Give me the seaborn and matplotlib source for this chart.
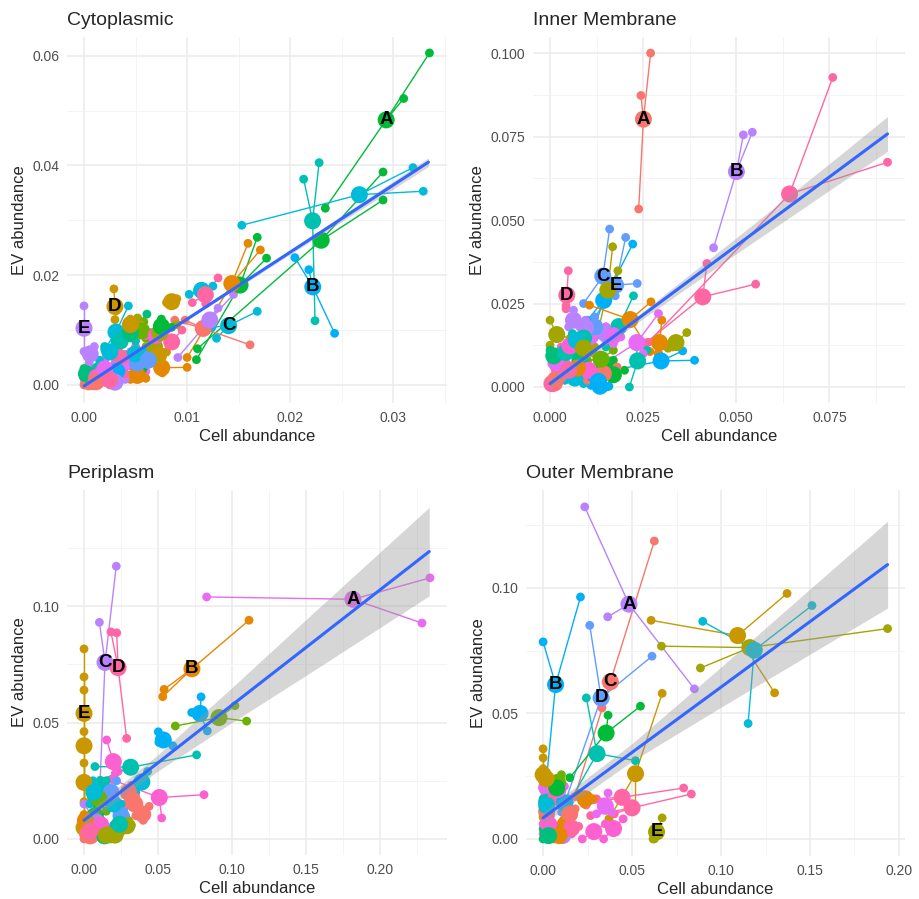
import numpy as np
import pandas as pd
import seaborn as sns
import matplotlib.pyplot as plt
from matplotlib.ticker import FixedLocator, FormatStrFormatter

# ggplot hue palette, 15 colours
hue15 = ["#F8766D", "#E58700", "#C99800", "#A3A500", "#6BB100", "#00BA38", "#00BF7D", "#00C0AF",
         "#00BCD8", "#00B0F6", "#619CFF", "#B983FF", "#E76BF3", "#FD61D1", "#FF67A4"]

#cytoplasmic
cyto_groups = ["A", "B", "C", "D", "E", "g06", "g07", "g08", "g09", "g10", "g11", "g12", "g13", "g14",
               "g15", "g16", "g17", "g18", "g19", "g20", "g21", "g22", "g23", "g24", "g25", "g26",
               "g27", "g28", "g29", "g30", "g31", "g32", "g33", "g34", "g35", "g36", "g37", "g38",
               "g39", "g40", "g41", "g42", "g43", "g44", "g45", "g46", "g47", "g48", "g49", "g50"]
cyto_colour = [5, 9, 8, 2, 11, 7, 8, 5, 5, 1, 1, 0, 8, 14, 2, 11, 6, 8, 3, 4, 0, 0, 12, 14, 11, 3,
               5, 1, 7, 9, 10, 12, 13, 14, 2, 8, 0, 6, 13, 12, 0, 7, 3, 8, 11, 14, 6, 2, 5, 10]
cyto_cell = [[0.0335, 0.0310, 0.0234], [0.02045, 0.0218, 0.0243], [0.0168, 0.01285, 0.0124],
             [0.0029, 0.0031, 0.0030], [0.0, 0.0, 0.0], [0.0213, 0.0228, 0.0224],
             [0.0153, 0.0319, 0.0329], [0.0290, 0.0290, 0.0110], [0.0168, 0.0177, 0.0109],
             [0.0159, 0.0171, 0.0100], [0.0100, 0.0076, 0.0050], [0.0161, 0.0098, 0.0088],
             [0.0102, 0.0115, 0.0125], [0.0105, 0.0118, 0.0130], [0.0080, 0.0090, 0.0085],
             [0.0091, 0.0130, 0.0145], [0.0061, 0.0040, 0.0030], [0.0043, 0.0030, 0.0020],
             [0.0052, 0.0045, 0.0038], [0.0058, 0.0050, 0.0060], [0.0002, 0.0008, 0.0012],
             [0.0005, 0.0015, 0.0003], [0.0030, 0.0045, 0.0060], [0.0020, 0.0035, 0.0050],
             [0.0003, 0.0010, 0.0005], [0.0060, 0.0075, 0.0070], [0.0040, 0.0065, 0.0055],
             [0.0045, 0.0060, 0.0050], [0.0010, 0.0020, 0.0015], [0.0025, 0.0040, 0.0030],
             [0.0035, 0.0050, 0.0070], [0.0015, 0.0030, 0.0025], [0.0060, 0.0080, 0.0070],
             [0.0075, 0.0085, 0.0095], [0.0065, 0.0080, 0.0072], [0.0050, 0.0060, 0.0040],
             [0.0000, 0.0004, 0.0010], [0.0000, 0.0005, 0.0002], [0.0005, 0.0020, 0.0012],
             [0.0010, 0.0030, 0.0020], [0.0000, 0.0010, 0.0025], [0.0020, 0.0050, 0.0035],
             [0.0070, 0.0090, 0.0060], [0.0015, 0.0035, 0.0025], [0.0030, 0.0040, 0.0020],
             [0.0010, 0.0025, 0.0040], [0.0045, 0.0055, 0.0035], [0.0035, 0.0045, 0.0055],
             [0.0065, 0.0075, 0.0085], [0.0055, 0.0070, 0.0062]]
cyto_ev = [[0.0605, 0.0522, 0.0322], [0.0232, 0.0210, 0.0094], [0.0134, 0.0085, 0.0105],
           [0.0175, 0.0135, 0.0119], [0.0144, 0.0105, 0.0061], [0.0375, 0.0405, 0.0117],
           [0.0291, 0.0396, 0.0353], [0.0388, 0.0337, 0.0066], [0.0269, 0.0231, 0.0046],
           [0.0258, 0.0246, 0.0050], [0.0032, 0.0022, 0.0040], [0.0073, 0.0118, 0.0118],
           [0.0165, 0.0172, 0.0180], [0.0150, 0.0148, 0.0195], [0.0150, 0.0157, 0.0148],
           [0.0050, 0.0140, 0.0165], [0.0129, 0.0085, 0.0070], [0.0144, 0.0080, 0.0065],
           [0.0122, 0.0090, 0.0075], [0.0115, 0.0095, 0.0085], [0.0005, 0.0010, 0.0003],
           [0.0020, 0.0012, 0.0008], [0.0040, 0.0060, 0.0025], [0.0030, 0.0050, 0.0070],
           [0.0060, 0.0070, 0.0040], [0.0070, 0.0090, 0.0050], [0.0020, 0.0045, 0.0030],
           [0.0010, 0.0012, 0.0030], [0.0025, 0.0040, 0.0015], [0.0015, 0.0035, 0.0025],
           [0.0020, 0.0040, 0.0060], [0.0005, 0.0010, 0.0020], [0.0090, 0.0100, 0.0080],
           [0.0060, 0.0075, 0.0100], [0.0055, 0.0060, 0.0047], [0.0050, 0.0065, 0.0055],
           [0.0000, 0.0002, 0.0015], [0.0030, 0.0020, 0.0010], [0.0010, 0.0030, 0.0002],
           [0.0030, 0.0012, 0.0045], [0.0012, 0.0005, 0.0000], [0.0070, 0.0080, 0.0090],
           [0.0080, 0.0110, 0.0095], [0.0045, 0.0075, 0.0060], [0.0000, 0.0010, 0.0005],
           [0.0000, 0.0008, 0.0020], [0.0095, 0.0110, 0.0080], [0.0100, 0.0120, 0.0110],
           [0.0095, 0.0120, 0.0105], [0.0035, 0.0045, 0.0055]]
cyto_fit_x = [0.0, 0.01, 0.02, 0.0334]
cyto_fit_y = [-0.0002, 0.0120, 0.0242, 0.0406]
cyto_fit_hw = [0.0004, 0.0002, 0.0004, 0.0008]

#inner membrane
inner_groups = ["A", "B", "C", "D", "E", "g06", "g07", "g08", "g09", "g10", "g11", "g12", "g13",
                "g14", "g15", "g16", "g17", "g18", "g19", "g20", "g21", "g22", "g23", "g24", "g25",
                "g26", "g27", "g28", "g29", "g30", "g31", "g32", "g33", "g34", "g35", "g36", "g37",
                "g38", "g39", "g40", "g41", "g42", "g43", "g44", "g45", "g46", "g47"]
inner_colour = [0, 11, 10, 14, 10, 14, 14, 9, 3, 7, 1, 1, 3, 9, 7, 12, 3, 11, 9, 11, 12, 5, 5, 6,
                0, 14, 13, 12, 8, 9, 6, 0, 13, 1, 14, 7, 10, 13, 11, 0, 4, 7, 12, 14, 9, 8, 3]
inner_cell = [[0.0270, 0.0244, 0.0238], [0.0519, 0.0543, 0.0439], [0.0160, 0.0090, 0.0175],
              [0.0049, 0.0043, 0.0043], [0.0234, 0.0203, 0.0091], [0.0759, 0.0906, 0.0264],
              [0.0552, 0.0421, 0.0257], [0.0222, 0.0100, 0.0110], [0.0168, 0.0182, 0.0115],
              [0.0224, 0.0180, 0.0150], [0.0271, 0.0106, 0.0268], [0.0300, 0.0290, 0.0292],
              [0.0367, 0.0330, 0.0317], [0.0388, 0.0356, 0.0150], [0.0213, 0.0260, 0.0232],
              [0.0291, 0.0250, 0.0158], [0.0000, 0.0000, 0.0054], [0.0063, 0.0050, 0.0076],
              [0.0134, 0.0110, 0.0158], [0.0120, 0.0150, 0.0180], [0.0100, 0.0130, 0.0090],
              [0.0120, 0.0170, 0.0140], [0.0160, 0.0200, 0.0150], [0.0080, 0.0060, 0.0100],
              [0.0010, 0.0020, 0.0005], [0.0030, 0.0060, 0.0045], [0.0020, 0.0040, 0.0010],
              [0.0005, 0.0030, 0.0015], [0.0040, 0.0070, 0.0090], [0.0080, 0.0110, 0.0060],
              [0.0000, 0.0020, 0.0010], [0.0100, 0.0150, 0.0180], [0.0080, 0.0100, 0.0130],
              [0.0060, 0.0090, 0.0070], [0.0005, 0.0010, 0.0000], [0.0040, 0.0030, 0.0055],
              [0.0120, 0.0090, 0.0150], [0.0030, 0.0080, 0.0050], [0.0080, 0.0110, 0.0095],
              [0.0000, 0.0030, 0.0015], [0.0100, 0.0140, 0.0170], [0.0060, 0.0090, 0.0120],
              [0.0150, 0.0190, 0.0170], [0.0020, 0.0050, 0.0080], [0.0150, 0.0110, 0.0130],
              [0.0070, 0.0040, 0.0100], [0.0120, 0.0090, 0.0060]]
inner_ev = [[0.1000, 0.0873, 0.0533], [0.0755, 0.0763, 0.0417], [0.0473, 0.0250, 0.0273],
            [0.0348, 0.0243, 0.0234], [0.0310, 0.0448, 0.0157], [0.0927, 0.0673, 0.0134],
            [0.0308, 0.0370, 0.0132], [0.0428, 0.0200, 0.0150], [0.0420, 0.0348, 0.0102],
            [0.0273, 0.0150, 0.0120], [0.0255, 0.0245, 0.0106], [0.0200, 0.0100, 0.0099],
            [0.0163, 0.0120, 0.0116], [0.0080, 0.0108, 0.0046], [0.0000, 0.0110, 0.0124],
            [0.0220, 0.0100, 0.0079], [0.0200, 0.0125, 0.0146], [0.0230, 0.0180, 0.0190],
            [0.0000, 0.0005, 0.0002], [0.0160, 0.0140, 0.0175], [0.0150, 0.0170, 0.0130],
            [0.0050, 0.0080, 0.0030], [0.0060, 0.0050, 0.0000], [0.0100, 0.0060, 0.0080],
            [0.0010, 0.0020, 0.0005], [0.0040, 0.0030, 0.0070], [0.0060, 0.0090, 0.0030],
            [0.0070, 0.0100, 0.0050], [0.0020, 0.0050, 0.0010], [0.0130, 0.0160, 0.0110],
            [0.0110, 0.0080, 0.0090], [0.0020, 0.0040, 0.0060], [0.0030, 0.0070, 0.0050],
            [0.0050, 0.0080, 0.0040], [0.0000, 0.0010, 0.0020], [0.0120, 0.0090, 0.0100],
            [0.0210, 0.0150, 0.0180], [0.0120, 0.0150, 0.0100], [0.0180, 0.0150, 0.0200],
            [0.0000, 0.0025, 0.0040], [0.0080, 0.0060, 0.0110], [0.0160, 0.0130, 0.0150],
            [0.0180, 0.0150, 0.0130], [0.0070, 0.0050, 0.0030], [0.0000, 0.0030, 0.0020],
            [0.0140, 0.0110, 0.0170], [0.0120, 0.0090, 0.0140]]
inner_fit_x = [0.0, 0.01, 0.025, 0.05, 0.075, 0.0906]
inner_fit_y = [0.0010, 0.0093, 0.0216, 0.0423, 0.0629, 0.0758]
inner_fit_hw = [0.0012, 0.0009, 0.0011, 0.0024, 0.0040, 0.0052]

#periplasm
peri_groups = ["A", "B", "C", "D", "E", "g06", "g07", "g08", "g09", "g10", "g11", "g12", "g13",
               "g14", "g15", "g16", "g17", "g18", "g19", "g20", "g21", "g22", "g23", "g24", "g25",
               "g26", "g27", "g28", "g29", "g30", "g31", "g32", "g33", "g34", "g35", "g36", "g37",
               "g38"]
peri_colour = [12, 1, 11, 14, 2, 2, 2, 2, 9, 4, 9, 7, 13, 10, 8, 13, 0, 0, 7, 8, 5, 3, 3, 0, 0, 11,
               12, 1, 6, 9, 13, 10, 7, 4, 14, 3, 0, 8]
peri_cell = [[0.0829, 0.2338, 0.2284], [0.1115, 0.0541, 0.0532], [0.0218, 0.0104, 0.0104],
             [0.0182, 0.0221, 0.0288], [0.0, 0.0, 0.0], [0.0, 0.0, 0.0], [0.0, 0.0, 0.0],
             [0.0, 0.0, 0.0], [0.0791, 0.0833, 0.0728], [0.1099, 0.1020, 0.0617],
             [0.0502, 0.0600, 0.0506], [0.0761, 0.0074, 0.0110], [0.0811, 0.0525, 0.0191],
             [0.0250, 0.0230, 0.0270], [0.0392, 0.0350, 0.0430], [0.0153, 0.0230, 0.0211],
             [0.0280, 0.0350, 0.0400], [0.0400, 0.0440, 0.0350], [0.0080, 0.0150, 0.0120],
             [0.0150, 0.0200, 0.0250], [0.0050, 0.0080, 0.0100], [0.0200, 0.0250, 0.0180],
             [0.0320, 0.0250, 0.0300], [0.0000, 0.0050, 0.0020], [0.0020, 0.0080, 0.0030],
             [0.0000, 0.0100, 0.0150], [0.0050, 0.0120, 0.0080], [0.0000, 0.0020, 0.0010],
             [0.0100, 0.0180, 0.0140], [0.0120, 0.0160, 0.0200], [0.0080, 0.0150, 0.0110],
             [0.0150, 0.0220, 0.0180], [0.0200, 0.0280, 0.0240], [0.0100, 0.0050, 0.0150],
             [0.0000, 0.0040, 0.0080], [0.0120, 0.0180, 0.0150], [0.0280, 0.0320, 0.0300],
             [0.0060, 0.0100, 0.0040]]
peri_ev = [[0.1039, 0.1121, 0.0927], [0.0939, 0.0642, 0.0611], [0.1171, 0.0930, 0.0173],
           [0.0889, 0.0885, 0.0432], [0.0816, 0.0696, 0.0105], [0.0639, 0.0461, 0.0100],
           [0.0326, 0.0243, 0.0160], [0.0086, 0.0040, 0.0020], [0.0610, 0.0464, 0.0543],
           [0.0506, 0.0572, 0.0485], [0.0460, 0.0400, 0.0415], [0.0361, 0.0311, 0.0252],
           [0.0190, 0.0090, 0.0254], [0.0100, 0.0070, 0.0130], [0.0244, 0.0200, 0.0290],
           [0.0425, 0.0290, 0.0281], [0.0150, 0.0180, 0.0120], [0.0080, 0.0140, 0.0100],
           [0.0200, 0.0250, 0.0180], [0.0120, 0.0180, 0.0150], [0.0100, 0.0150, 0.0050],
           [0.0010, 0.0040, 0.0000], [0.0060, 0.0030, 0.0080], [0.0000, 0.0020, 0.0050],
           [0.0000, 0.0030, 0.0010], [0.0150, 0.0050, 0.0020], [0.0050, 0.0080, 0.0020],
           [0.0080, 0.0100, 0.0060], [0.0010, 0.0030, 0.0000], [0.0160, 0.0220, 0.0200],
           [0.0100, 0.0050, 0.0030], [0.0200, 0.0250, 0.0150], [0.0060, 0.0100, 0.0030],
           [0.0220, 0.0180, 0.0120], [0.0030, 0.0010, 0.0060], [0.0000, 0.0010, 0.0040],
           [0.0200, 0.0230, 0.0170], [0.0250, 0.0200, 0.0150]]
peri_fit_x = [0.0, 0.05, 0.10, 0.15, 0.2333]
peri_fit_y = [0.0080, 0.0327, 0.0575, 0.0822, 0.1234]
peri_fit_hw = [0.0025, 0.0035, 0.0075, 0.0120, 0.0190]

#outer membrane
outer_groups = ["A", "B", "C", "D", "E", "g06", "g07", "g08", "g09", "g10", "g11", "g12", "g13",
                "g14", "g15", "g16", "g17", "g18", "g19", "g20", "g21", "g22", "g23", "g24", "g25",
                "g26", "g27", "g28", "g29", "g31", "g32", "g33", "g34", "g35", "g36", "g37", "g38",
                "g39"]
outer_colour = [11, 9, 0, 10, 3, 2, 3, 8, 2, 7, 5, 14, 14, 13, 13, 12, 2, 12, 4, 1, 0, 13, 6, 11,
                7, 1, 14, 9, 5, 0, 13, 12, 5, 8, 14, 2, 1, 6]
outer_cell = [[0.0234, 0.0363, 0.0850], [0.0, 0.0210, 0.0], [0.0625, 0.0331, 0.0178],
              [0.0262, 0.0612, 0.0104], [0.0669, 0.0618, 0.0625], [0.1371, 0.0607, 0.1301],
              [0.1936, 0.0665, 0.0884], [0.1511, 0.0897, 0.1152], [0.0669, 0.0519, 0.0370],
              [0.0243, 0.0519, 0.0147], [0.0547, 0.0365, 0.0150], [0.0790, 0.0300, 0.0242],
              [0.0833, 0.0400, 0.0267], [0.0285, 0.0350, 0.0220], [0.0397, 0.0450, 0.0340],
              [0.0365, 0.0300, 0.0385], [0.0, 0.0, 0.0], [0.0000, 0.0050, 0.0010],
              [0.0103, 0.0060, 0.0080], [0.0280, 0.0200, 0.0230], [0.0000, 0.0020, 0.0040],
              [0.0000, 0.0050, 0.0080], [0.0030, 0.0060, 0.0000], [0.0100, 0.0150, 0.0080],
              [0.0000, 0.0020, 0.0040], [0.0100, 0.0130, 0.0150], [0.0040, 0.0080, 0.0100],
              [0.0100, 0.0120, 0.0140], [0.0020, 0.0050, 0.0060], [0.0150, 0.0180, 0.0120],
              [0.0000, 0.0040, 0.0060], [0.0080, 0.0120, 0.0050], [0.0050, 0.0100, 0.0080],
              [0.0020, 0.0000, 0.0040], [0.0200, 0.0160, 0.0120], [0.0000, 0.0020, 0.0030],
              [0.0060, 0.0090, 0.0120], [0.0000, 0.0030, 0.0060]]
outer_ev = [[0.1323, 0.0885, 0.0598], [0.0785, 0.0964, 0.0096], [0.1187, 0.0522, 0.0169],
            [0.0851, 0.0728, 0.0107], [0.0084, 0.0, 0.0], [0.0978, 0.0871, 0.0582],
            [0.0838, 0.0768, 0.0681], [0.0930, 0.0867, 0.0460], [0.0580, 0.0120, 0.0080],
            [0.0562, 0.0312, 0.0146], [0.0529, 0.0493, 0.0244], [0.0203, 0.0160, 0.0135],
            [0.0179, 0.0100, 0.0093], [0.0028, 0.0060, 0.0000], [0.0044, 0.0080, 0.0000],
            [0.0183, 0.0100, 0.0107], [0.0359, 0.0323, 0.0086], [0.0206, 0.0230, 0.0180],
            [0.0256, 0.0200, 0.0220], [0.0160, 0.0180, 0.0140], [0.0110, 0.0090, 0.0130],
            [0.0020, 0.0040, 0.0000], [0.0000, 0.0020, 0.0040], [0.0000, 0.0030, 0.0010],
            [0.0150, 0.0160, 0.0130], [0.0060, 0.0040, 0.0080], [0.0180, 0.0150, 0.0170],
            [0.0140, 0.0130, 0.0160], [0.0050, 0.0010, 0.0030], [0.0100, 0.0120, 0.0080],
            [0.0060, 0.0090, 0.0020], [0.0180, 0.0210, 0.0200], [0.0200, 0.0180, 0.0230],
            [0.0140, 0.0160, 0.0100], [0.0050, 0.0020, 0.0060], [0.0280, 0.0240, 0.0200],
            [0.0000, 0.0030, 0.0010], [0.0000, 0.0010, 0.0030]]
outer_fit_x = [0.0, 0.05, 0.10, 0.15, 0.1936]
outer_fit_y = [0.0084, 0.0345, 0.0605, 0.0866, 0.1093]
outer_fit_hw = [0.0025, 0.0035, 0.0080, 0.0130, 0.0173]

labels = ["A", "B", "C", "D", "E"]

sns.set_style("white")
plt.rcParams["font.family"] = ["Liberation Sans", "DejaVu Sans"]


def draw_panel(ax, title, groups, colour, cell, ev, fit_x, fit_y, fit_hw,
               xlim, ylim, xmajor, ymajor, xminor, yminor, xfmt, yfmt):
    pal = {g: hue15[c] for g, c in zip(groups, colour)}
    rows = []
    for g, xs, ys in zip(groups, cell, ev):
        for x, y in zip(xs, ys):
            rows.append({"group": g, "cell": x, "ev": y})
    rep = pd.DataFrame(rows)
    cent = rep.groupby("group", sort=False)[["cell", "ev"]].mean().reset_index()

    # spokes from each protein mean to its replicates
    seg_rows = []
    for i, r in rep.iterrows():
        c = cent[cent["group"] == r["group"]].iloc[0]
        seg_rows.append({"seg": i, "group": r["group"], "cell": c["cell"], "ev": c["ev"]})
        seg_rows.append({"seg": i, "group": r["group"], "cell": r["cell"], "ev": r["ev"]})
    seg = pd.DataFrame(seg_rows)

    sns.lineplot(data=seg, x="cell", y="ev", hue="group", units="seg", estimator=None,
                 sort=False, palette=pal, legend=False, linewidth=1.0, ax=ax)
    sns.scatterplot(data=rep, x="cell", y="ev", hue="group", palette=pal, s=40,
                    linewidth=0, legend=False, ax=ax, zorder=3)
    sns.scatterplot(data=cent, x="cell", y="ev", hue="group", palette=pal, s=150,
                    linewidth=0, legend=False, ax=ax, zorder=3)

    fx = np.array(fit_x)
    fy = np.array(fit_y)
    hw = np.array(fit_hw)
    ax.fill_between(fx, fy - hw, fy + hw, color="#999999", alpha=0.4, linewidth=0, zorder=4)
    sns.lineplot(x=fx, y=fy, color="#3366FF", linewidth=2.2, ax=ax, zorder=5)

    for lab in labels:
        c = cent[cent["group"] == lab].iloc[0]
        ax.text(c["cell"], c["ev"], lab, ha="center", va="center", fontsize=13.5,
                fontweight="bold", color="black", zorder=6)

    ax.set_xlim(*xlim)
    ax.set_ylim(*ylim)
    ax.xaxis.set_major_locator(FixedLocator(xmajor))
    ax.yaxis.set_major_locator(FixedLocator(ymajor))
    ax.xaxis.set_minor_locator(FixedLocator(xminor))
    ax.yaxis.set_minor_locator(FixedLocator(yminor))
    ax.xaxis.set_major_formatter(FormatStrFormatter(xfmt))
    ax.yaxis.set_major_formatter(FormatStrFormatter(yfmt))
    ax.grid(which="major", color="#EBEBEB", linewidth=1.1)
    ax.grid(which="minor", color="#F2F2F2", linewidth=0.6)
    ax.set_axisbelow(True)
    for s in ax.spines.values():
        s.set_visible(False)
    ax.tick_params(which="major", length=3.5, width=0.8, color="#333333",
                   labelsize=10, labelcolor="#4D4D4D", pad=2)
    ax.tick_params(which="minor", length=0)
    ax.set_xlabel("Cell abundance", fontsize=12, labelpad=3)
    ax.set_ylabel("EV abundance", fontsize=12, labelpad=4)
    ax.set_title(title, loc="left", fontsize=14, pad=9)


fig = plt.figure(figsize=(9.19, 8.99), dpi=100)
ax1 = fig.add_axes([0.0729, 0.5517, 0.4135, 0.4071])
ax2 = fig.add_axes([0.5800, 0.5517, 0.4048, 0.4071])
ax3 = fig.add_axes([0.0729, 0.0489, 0.4135, 0.4060])
ax4 = fig.add_axes([0.5724, 0.0478, 0.4124, 0.4071])

draw_panel(ax1, "Cytoplasmic", cyto_groups, cyto_colour, cyto_cell, cyto_ev,
           cyto_fit_x, cyto_fit_y, cyto_fit_hw,
           (-0.00165, 0.0352), (-0.0033, 0.0634),
           [0, 0.01, 0.02, 0.03], [0, 0.02, 0.04, 0.06],
           [0.005, 0.015, 0.025, 0.035], [0.01, 0.03, 0.05], "%.2f", "%.2f")
draw_panel(ax2, "Inner Membrane", inner_groups, inner_colour, inner_cell, inner_ev,
           inner_fit_x, inner_fit_y, inner_fit_hw,
           (-0.00457, 0.0953), (-0.0048, 0.1048),
           [0, 0.025, 0.05, 0.075], [0, 0.025, 0.05, 0.075, 0.1],
           [0.0125, 0.0375, 0.0625, 0.0875], [0.0125, 0.0375, 0.0625, 0.0875], "%.3f", "%.3f")
draw_panel(ax3, "Periplasm", peri_groups, peri_colour, peri_cell, peri_ev,
           peri_fit_x, peri_fit_y, peri_fit_hw,
           (-0.0115, 0.2453), (-0.0069, 0.1498),
           [0, 0.05, 0.1, 0.15, 0.2], [0, 0.05, 0.1],
           [0.025, 0.075, 0.125, 0.175, 0.225], [0.025, 0.075, 0.125], "%.2f", "%.2f")
draw_panel(ax4, "Outer Membrane", outer_groups, outer_colour, outer_cell, outer_ev,
           outer_fit_x, outer_fit_y, outer_fit_hw,
           (-0.0096, 0.2034), (-0.0068, 0.139),
           [0, 0.05, 0.1, 0.15, 0.2], [0, 0.05, 0.1],
           [0.025, 0.075, 0.125, 0.175], [0.025, 0.075, 0.125], "%.2f", "%.2f")

fig.savefig("out.png", dpi=100, facecolor="white")
